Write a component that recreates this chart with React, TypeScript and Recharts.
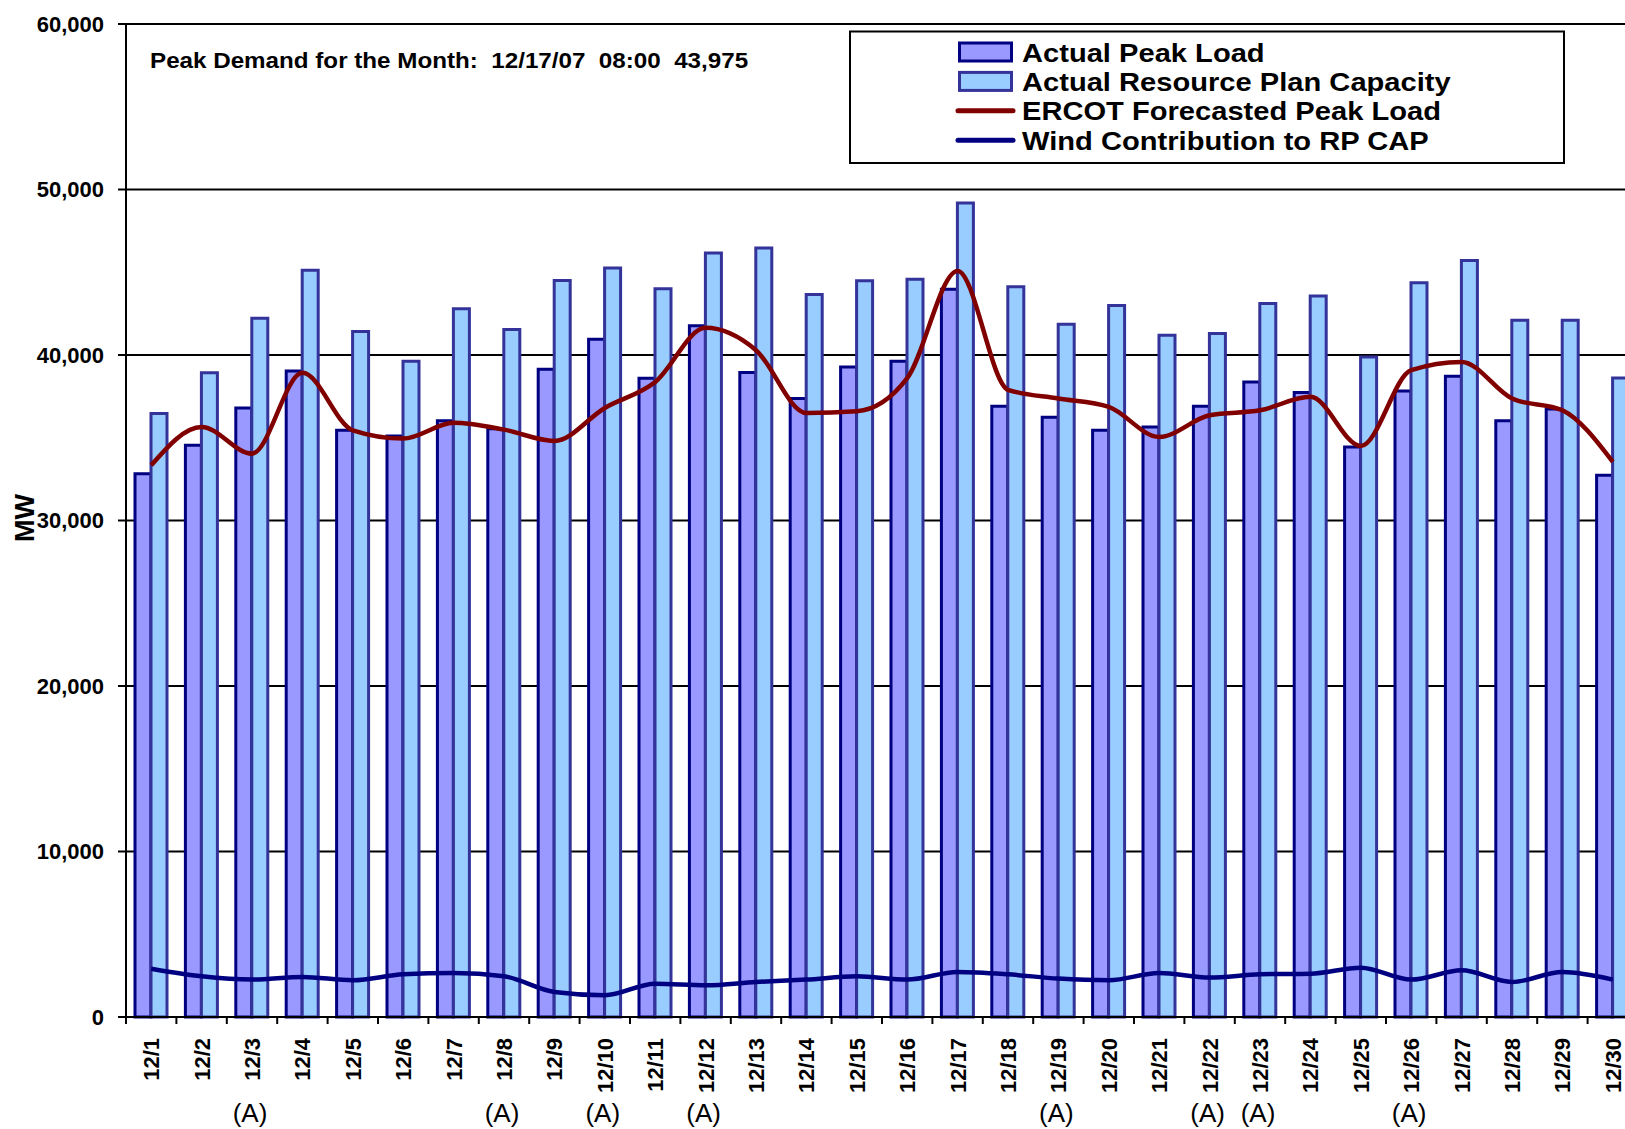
import React from 'react';
import { ComposedChart, Bar, Line, XAxis, YAxis, CartesianGrid } from 'recharts';

// Daily values, December 2007 (MW)
const days = [
  '12/1', '12/2', '12/3', '12/4', '12/5', '12/6', '12/7', '12/8', '12/9', '12/10',
  '12/11', '12/12', '12/13', '12/14', '12/15', '12/16', '12/17', '12/18', '12/19', '12/20',
  '12/21', '12/22', '12/23', '12/24', '12/25', '12/26', '12/27', '12/28', '12/29', '12/30',
];
const actualPeakLoad = [
  32830, 34550, 36800, 39040, 35450, 35110, 36020, 35550, 39140, 40950,
  38600, 41760, 38940, 37370, 39280, 39620, 43975, 36900, 36240, 35450,
  35650, 36900, 38370, 37730, 34440, 37830, 38720, 36020, 36740, 32730,
];
const resourcePlanCapacity = [
  36460, 38920, 42220, 45120, 41420, 39620, 42790, 41540, 44500, 45260,
  44010, 46170, 46470, 43650, 44480, 44580, 49190, 44120, 41860, 42990,
  41190, 41300, 43110, 43570, 39880, 44360, 45710, 42100, 42100, 38610,
];
const forecastPeakLoad = [
  33340, 35650, 34040, 38920, 35450, 34950, 35900, 35490, 34810, 36800,
  38370, 41640, 40290, 36500, 36600, 38600, 45080, 37900, 37370, 36860,
  35050, 36360, 36660, 37470, 34500, 39080, 39580, 37370, 36660, 33540,
];
const windContribution = [
  2920, 2460, 2260, 2420, 2220, 2580, 2660, 2460, 1510, 1310,
  2015, 1915, 2115, 2260, 2460, 2260, 2720, 2580, 2320, 2220,
  2660, 2380, 2580, 2620, 2980, 2260, 2820, 2115, 2720, 2260,
];
const yTicks = [0, 10000, 20000, 30000, 40000, 50000, 60000];
// days flagged "(A)" under the axis
const flaggedDays = ['12/3', '12/8', '12/10', '12/12', '12/19', '12/22', '12/23', '12/26'];
const peakNote = 'Peak Demand for the Month:  12/17/07  08:00  43,975';

const data = days.map((day, i) => ({
  day,
  peak: actualPeakLoad[i],
  capacity: resourcePlanCapacity[i],
  forecast: forecastPeakLoad[i],
  wind: windContribution[i],
}));

const PAGE_W = 1625;
const PAGE_H = 1129;
const CHART_W = 1650;
const MARGIN = { top: 24, right: 12, bottom: 0, left: 0 };
const Y_AXIS_W = 126;
const X_AXIS_H = 112;
const STEP = (CHART_W - MARGIN.left - MARGIN.right - Y_AXIS_W) / days.length;
const FONT = '"Liberation Sans", Arial, sans-serif';

const legendItems = [
  { name: 'Actual Peak Load', kind: 'bar', fill: '#9999FF', stroke: '#000080' },
  { name: 'Actual Resource Plan Capacity', kind: 'bar', fill: '#99CCFF', stroke: '#333399' },
  { name: 'ERCOT Forecasted Peak Load', kind: 'line', stroke: '#800000' },
  { name: 'Wind Contribution to RP CAP', kind: 'line', stroke: '#000080' },
];

const DayTick = ({ x, y, payload }: any) => {
  const flagged = flaggedDays.includes(payload.value);
  return (
    <g>
      <line x1={x - STEP / 2} x2={x - STEP / 2} y1={y} y2={y + 7} stroke="#000" strokeWidth={2} />
      <text
        transform={`translate(${x},${y + 21}) rotate(-90)`}
        textAnchor="end"
        dy="0.36em"
        fontSize={22}
        fontWeight="bold"
        fontFamily={FONT}
        fill="#000"
      >
        {payload.value}
      </text>
      {flagged && (
        <text x={x - 2} y={y + 105} textAnchor="middle" fontSize={26} fontFamily={FONT} fill="#000">
          (A)
        </text>
      )}
    </g>
  );
};

const Overlay = () => (
  <svg
    width={PAGE_W}
    height={PAGE_H}
    style={{ position: 'absolute', left: 0, top: 0, pointerEvents: 'none' }}
  >
    <text
      transform="translate(24,518) rotate(-90)"
      textAnchor="middle"
      dy="0.36em"
      fontSize={27}
      fontWeight="bold"
      fontFamily={FONT}
      fill="#000"
    >
      MW
    </text>
    <text
      transform="translate(150,68) scale(1.1,1)"
      fontSize={22}
      fontWeight="bold"
      fontFamily={FONT}
      fill="#000"
      style={{ whiteSpace: 'pre' }}
    >
      {peakNote}
    </text>

    <rect x={850} y={31.5} width={714} height={131.5} fill="#fff" stroke="#000" strokeWidth={2} />
    {legendItems.map((item, i) => {
      const cy = 52 + 29.4 * i;
      return (
        <g key={item.name}>
          {item.kind === 'bar' ? (
            <rect x={959.5} y={cy - 9} width={52} height={18} fill={item.fill} stroke={item.stroke} strokeWidth={3} />
          ) : (
            <line x1={958} x2={1013} y1={cy} y2={cy} stroke={item.stroke} strokeWidth={5} strokeLinecap="round" />
          )}
          <text
            transform={`translate(1022,${cy + 9.5}) scale(1.12,1)`}
            fontSize={26}
            fontWeight="bold"
            fontFamily={FONT}
            fill="#000"
          >
            {item.name}
          </text>
        </g>
      );
    })}
  </svg>
);

const App: React.FC = () => {
  return (
    <div
      style={{
        position: 'fixed',
        left: 0,
        top: 0,
        width: PAGE_W,
        height: PAGE_H,
        overflow: 'hidden',
        background: '#fff',
      }}
    >
      <ComposedChart width={CHART_W} height={PAGE_H} data={data} margin={MARGIN} barGap={0}>
        <CartesianGrid vertical={false} stroke="#000" strokeWidth={2} />
        <XAxis
          dataKey="day"
          interval={0}
          height={X_AXIS_H}
          tickLine={false}
          tickSize={0}
          tickMargin={0}
          axisLine={{ stroke: '#000', strokeWidth: 2 }}
          tick={<DayTick />}
        />
        <YAxis
          width={Y_AXIS_W}
          domain={[0, 60000]}
          ticks={yTicks}
          interval={0}
          tickFormatter={(v: number) => v.toLocaleString('en-US')}
          tickSize={8}
          tickMargin={14}
          axisLine={{ stroke: '#000', strokeWidth: 2 }}
          tickLine={{ stroke: '#000', strokeWidth: 2 }}
          tick={{ fontSize: 22, fontWeight: 'bold', fill: '#000', fontFamily: FONT }}
        />
        <Bar
          dataKey="peak"
          name="Actual Peak Load"
          fill="#9999FF"
          stroke="#000080"
          strokeWidth={3}
          barSize={16}
          isAnimationActive={false}
        />
        <Bar
          dataKey="capacity"
          name="Actual Resource Plan Capacity"
          fill="#99CCFF"
          stroke="#333399"
          strokeWidth={3}
          barSize={16}
          isAnimationActive={false}
        />
        <Line
          type="monotone"
          dataKey="forecast"
          name="ERCOT Forecasted Peak Load"
          stroke="#800000"
          strokeWidth={4.5}
          dot={false}
          isAnimationActive={false}
        />
        <Line
          type="monotone"
          dataKey="wind"
          name="Wind Contribution to RP CAP"
          stroke="#000080"
          strokeWidth={4.5}
          dot={false}
          isAnimationActive={false}
        />
      </ComposedChart>
      <Overlay />
    </div>
  );
};

export default App;
